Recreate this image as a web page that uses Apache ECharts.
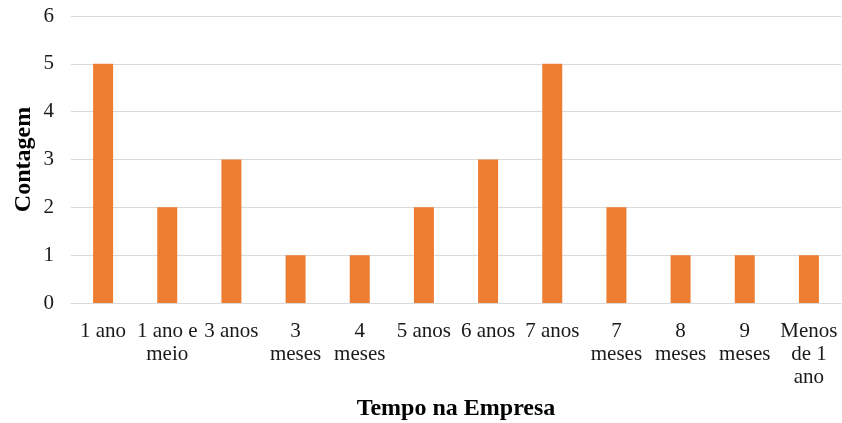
<!DOCTYPE html>
<html>
<head>
<meta charset="utf-8">
<script src="https://cdn.jsdelivr.net/npm/echarts@6/dist/echarts.min.js"></script>
<style>
  html, body { margin: 0; padding: 0; background: #fff; }
  #chart { width: 842px; height: 423px; }
</style>
</head>
<body>
<div id="chart"></div>
<script>
// Tenure categories and employee counts
const categories = ['1 ano', '1 ano e\nmeio', '3 anos', '3\nmeses', '4\nmeses', '5 anos',
  '6 anos', '7 anos', '7\nmeses', '8\nmeses', '9\nmeses', 'Menos\nde 1\nano'];
const counts = [5, 2, 3, 1, 1, 2, 3, 5, 2, 1, 1, 1];
const yTicks = [0, 1, 2, 3, 4, 5, 6];

const serif = '"Liberation Serif", "Times New Roman", serif';
const chart = echarts.init(document.getElementById('chart'), null, { renderer: 'canvas' });

chart.setOption({
  animation: false,
  backgroundColor: '#ffffff',
  grid: { left: 71, right: 1, top: 16, bottom: 120, containLabel: false, outerBoundsMode: 'none' },
  xAxis: {
    type: 'category',
    data: categories,
    name: 'Tempo na Empresa',
    nameLocation: 'middle',
    nameGap: 94,
    nameMoveOverlap: false,
    nameTextStyle: { fontFamily: serif, fontSize: 24, fontWeight: 'bold', color: '#000' },
    axisLine: { lineStyle: { color: '#d9d9d9', width: 1 } },
    axisTick: { show: false },
    axisLabel: {
      interval: 0,
      margin: 17,
      fontFamily: serif,
      fontSize: 21,
      lineHeight: 23,
      color: '#1a1a1a',
      align: 'center'
    }
  },
  yAxis: {
    type: 'value',
    min: yTicks[0],
    max: yTicks[yTicks.length - 1],
    interval: 1,
    name: 'Contagem',
    nameLocation: 'middle',
    nameGap: 35,
    nameMoveOverlap: false,
    nameTextStyle: { fontFamily: serif, fontSize: 24, fontWeight: 'bold', color: '#000' },
    axisLine: { show: false },
    axisTick: { show: false },
    splitLine: { lineStyle: { color: '#d9d9d9', width: 1 } },
    axisLabel: { fontFamily: serif, fontSize: 21, color: '#1a1a1a', margin: 17 }
  },
  series: [{
    type: 'bar',
    data: counts,
    barWidth: 20,
    itemStyle: { color: '#ED7D31' }
  }]
});
</script>
</body>
</html>
